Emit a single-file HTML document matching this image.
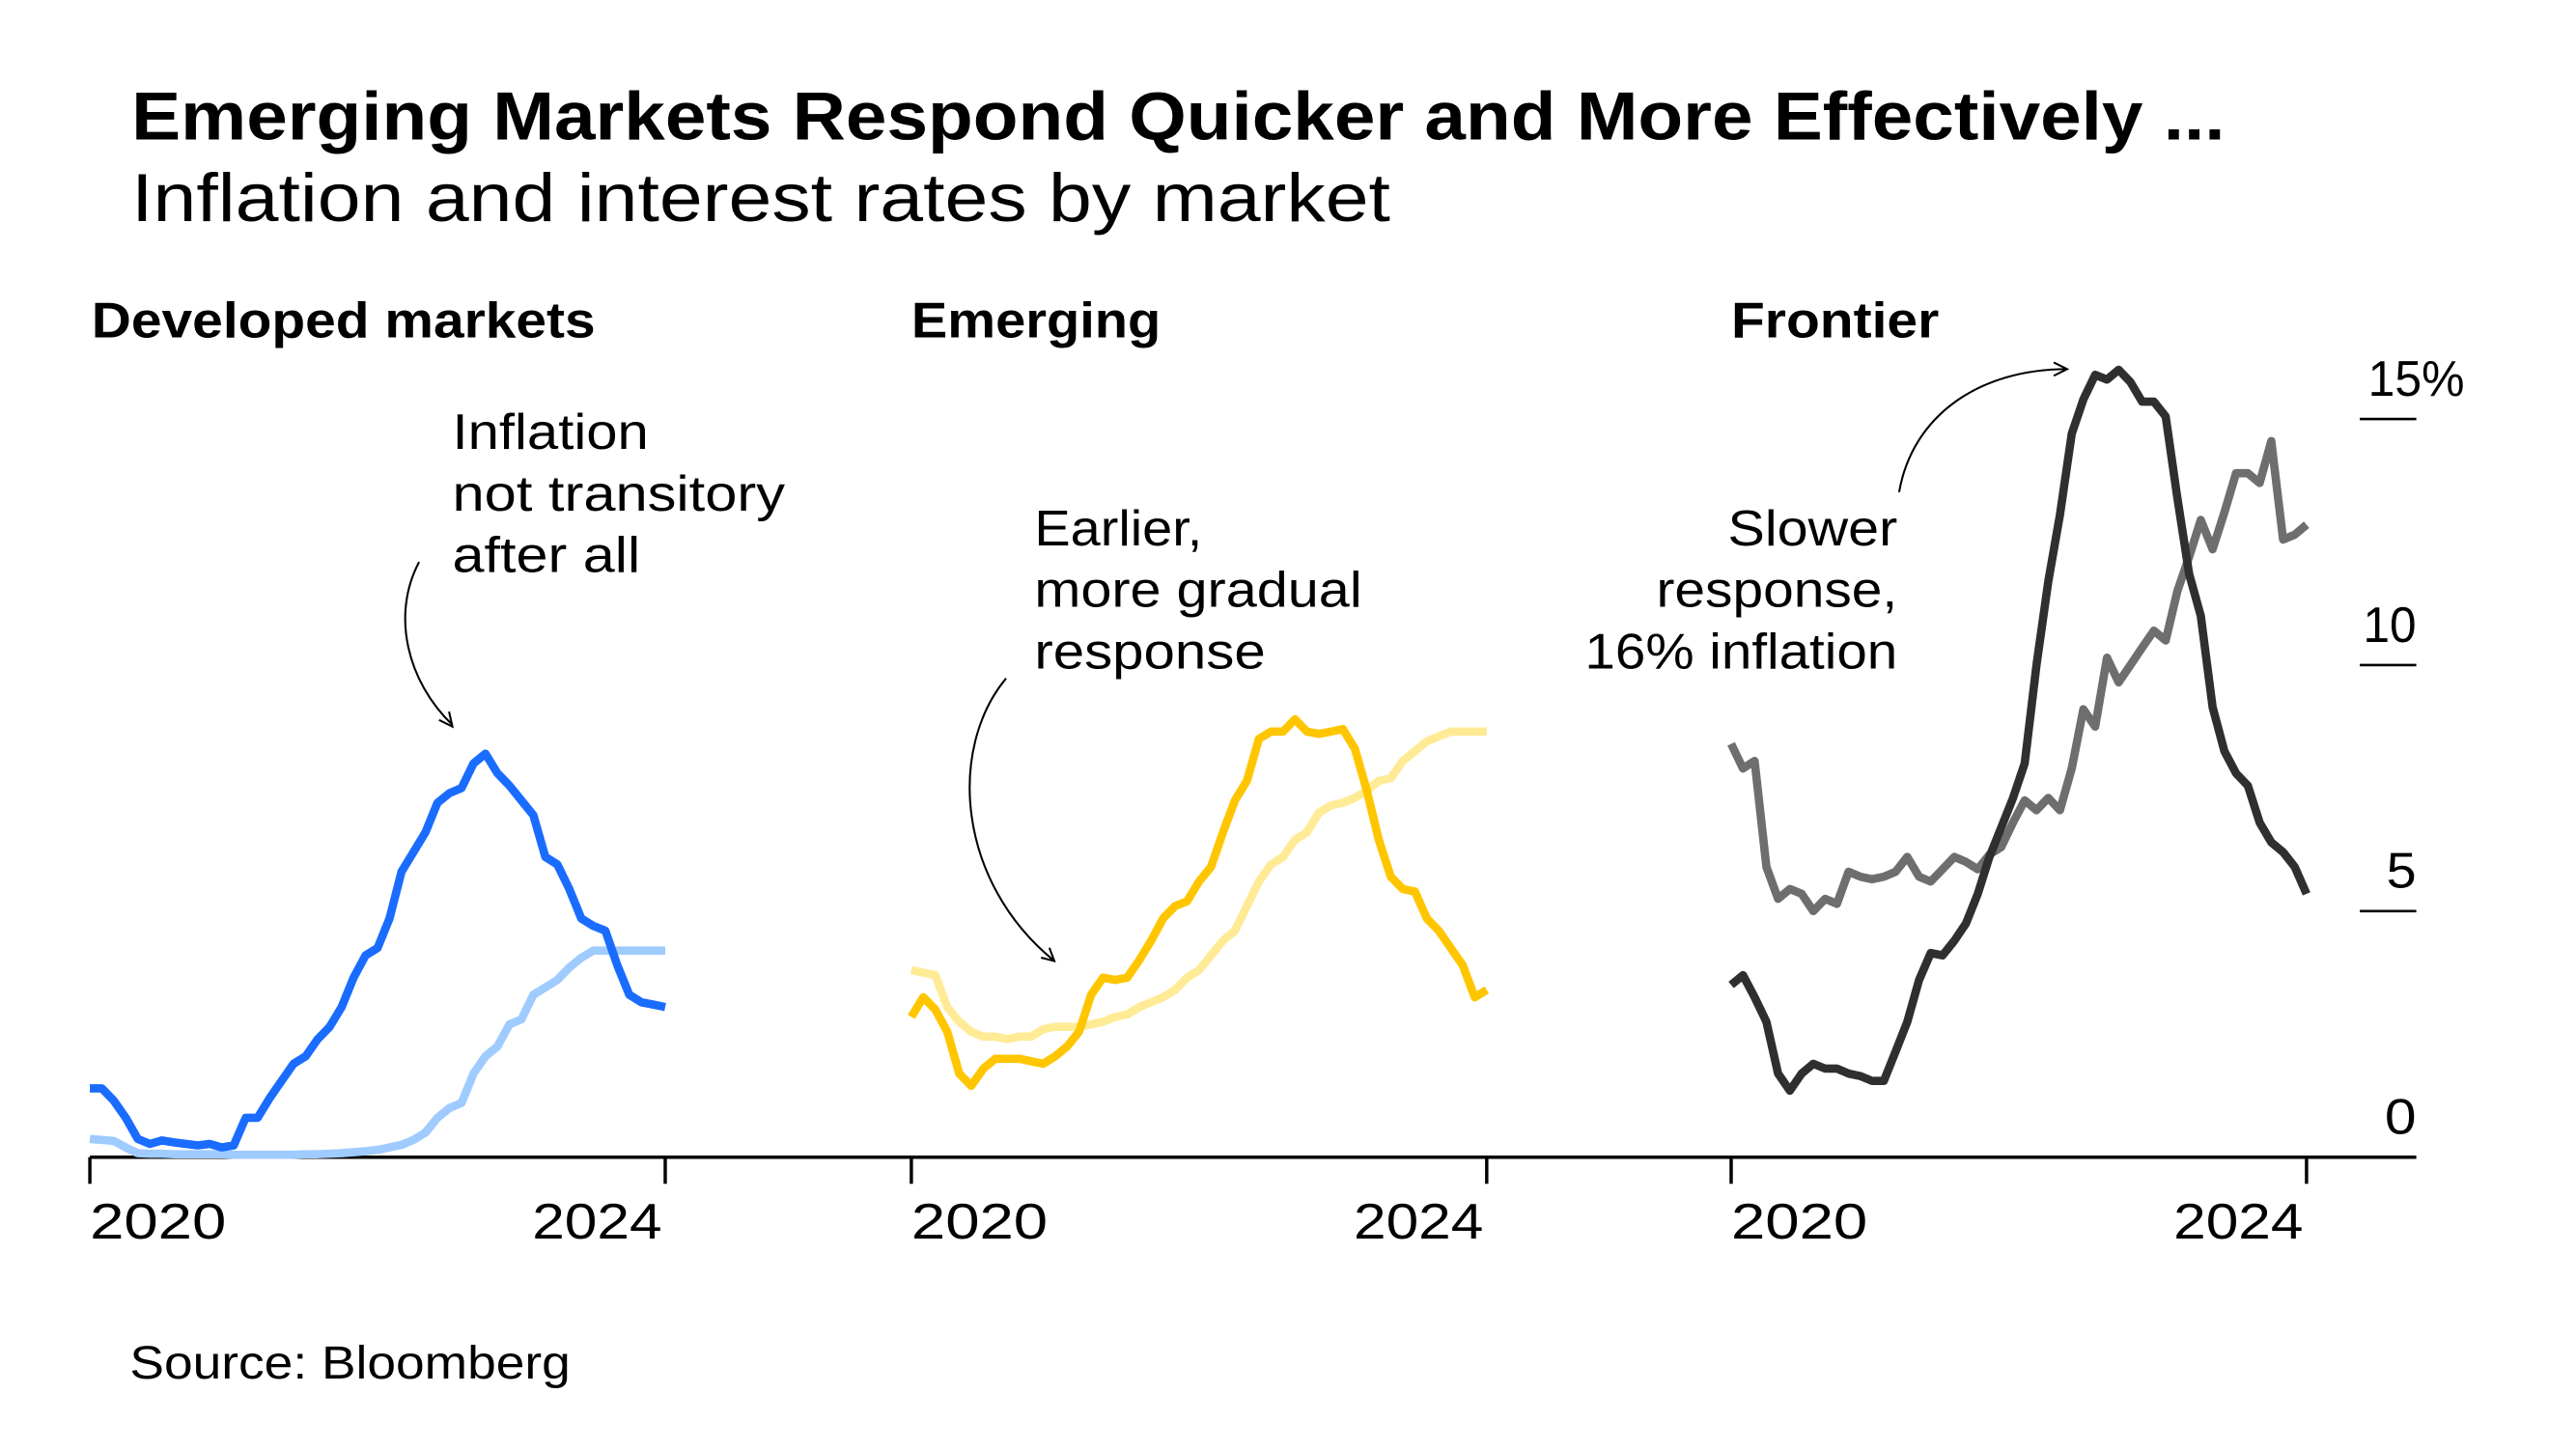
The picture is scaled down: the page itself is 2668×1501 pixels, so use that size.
<!DOCTYPE html>
<html><head><meta charset="utf-8"><style>
html,body{margin:0;padding:0;background:#fff;}
svg{display:block;font-family:"Liberation Sans",Arial,sans-serif;}
</style></head><body>
<svg id="chart" width="2668" height="1501" viewBox="0 0 1549 871.5" xmlns="http://www.w3.org/2000/svg">
<text x="79" y="84" font-size="41" font-weight="bold" fill="#000" textLength="1259" lengthAdjust="spacingAndGlyphs">Emerging Markets Respond Quicker and More Effectively ...</text>
<text x="79" y="133" font-size="41" fill="#000" textLength="757" lengthAdjust="spacingAndGlyphs">Inflation and interest rates by market</text>
<text x="55" y="203" font-size="30" font-weight="bold" textLength="303" lengthAdjust="spacingAndGlyphs">Developed markets</text>
<text x="548" y="203" font-size="30" font-weight="bold" textLength="150" lengthAdjust="spacingAndGlyphs">Emerging</text>
<text x="1041" y="203" font-size="30" font-weight="bold" textLength="125" lengthAdjust="spacingAndGlyphs">Frontier</text>
<g id="axes"></g>
<g id="series"></g>
<g font-size="30">
<text x="272" y="270" textLength="118" lengthAdjust="spacingAndGlyphs">Inflation</text><text x="272" y="307" textLength="200" lengthAdjust="spacingAndGlyphs">not transitory</text><text x="272" y="344" textLength="113" lengthAdjust="spacingAndGlyphs">after all</text>
<path d="M252,338 C235,370 245,410 272,436" fill="none" stroke="#000" stroke-width="1.2"/>
<path d="M264,433 L272,437 L270,428" fill="none" stroke="#000" stroke-width="1.2"/>
</g>
<g font-size="30">
<text x="622" y="328" textLength="101" lengthAdjust="spacingAndGlyphs">Earlier,</text><text x="622" y="365" textLength="197" lengthAdjust="spacingAndGlyphs">more gradual</text><text x="622" y="402" textLength="139" lengthAdjust="spacingAndGlyphs">response</text>
<path d="M605,408 C570,450 575,530 634,578" fill="none" stroke="#000" stroke-width="1.2"/>
<path d="M626,576 L634,578 L631,570" fill="none" stroke="#000" stroke-width="1.2"/>
</g>
<g font-size="30" text-anchor="end">
<text x="1141" y="328" textLength="102" lengthAdjust="spacingAndGlyphs">Slower</text><text x="1141" y="365" textLength="145" lengthAdjust="spacingAndGlyphs">response,</text><text x="1141" y="402" textLength="188" lengthAdjust="spacingAndGlyphs">16% inflation</text>
<path d="M1142,296 C1150,250 1190,222 1243,222" fill="none" stroke="#000" stroke-width="1.2"/>
<path d="M1235,218 L1243,222 L1235,226" fill="none" stroke="#000" stroke-width="1.2"/>
</g>
<text x="78" y="829" font-size="28" textLength="265" lengthAdjust="spacingAndGlyphs">Source: Bloomberg</text>
</svg>
<script>
const yTicks=[0,5,10,15];
const yTickLabels=["0","5","10","15%"];
const xTickLabels=["2020","2024"];
const devInflation=[1.4,1.4,1.15,0.8,0.37,0.27,0.34,0.3,0.27,0.24,0.27,0.2,0.24,0.8,0.8,1.2,1.55,1.9,2.05,2.4,2.65,3.05,3.65,4.1,4.25,4.85,5.8,6.2,6.6,7.2,7.4,7.5,8.0,8.2,7.8,7.55,7.25,6.95,6.1,5.95,5.45,4.85,4.7,4.6,3.9,3.3,3.15,3.1,3.05];
const devRates=[0.37,0.35,0.33,0.2,0.08,0.07,0.07,0.06,0.06,0.06,0.06,0.06,0.05,0.05,0.05,0.05,0.05,0.05,0.06,0.06,0.07,0.08,0.1,0.12,0.15,0.2,0.25,0.35,0.5,0.8,1.0,1.1,1.7,2.05,2.25,2.7,2.8,3.3,3.45,3.6,3.85,4.05,4.2,4.2,4.2,4.2,4.2,4.2,4.2];
const emInflation=[2.85,3.25,3.0,2.55,1.7,1.45,1.8,2.0,2.0,2.0,1.95,1.9,2.05,2.25,2.55,3.3,3.65,3.6,3.65,4.0,4.4,4.85,5.1,5.2,5.6,5.9,6.6,7.25,7.65,8.5,8.65,8.65,8.9,8.65,8.6,8.65,8.7,8.3,7.45,6.45,5.7,5.45,5.4,4.85,4.6,4.25,3.9,3.25,3.4];
const emRates=[3.8,3.75,3.7,3.05,2.75,2.55,2.45,2.45,2.4,2.45,2.45,2.6,2.65,2.65,2.65,2.7,2.75,2.85,2.9,3.05,3.15,3.25,3.4,3.65,3.8,4.1,4.4,4.6,5.1,5.6,5.95,6.1,6.45,6.6,7.0,7.15,7.2,7.3,7.45,7.65,7.7,8.05,8.25,8.45,8.55,8.65,8.65,8.65,8.65];
const frInflation=[3.5,3.7,3.25,2.75,1.7,1.35,1.7,1.9,1.8,1.8,1.7,1.65,1.55,1.55,2.15,2.75,3.6,4.15,4.1,4.4,4.75,5.35,6.1,6.7,7.3,8.0,10.0,11.7,13.05,14.7,15.4,15.9,15.8,16.0,15.75,15.35,15.35,15.05,13.4,11.85,11.0,9.15,8.25,7.8,7.55,6.8,6.4,6.2,5.9,5.35];
const frRates=[8.4,7.9,8.05,5.9,5.25,5.45,5.35,5.0,5.25,5.15,5.8,5.7,5.65,5.7,5.8,6.1,5.7,5.6,5.85,6.1,6.0,5.85,6.15,6.3,6.8,7.25,7.05,7.3,7.05,7.9,9.1,8.75,10.15,9.65,10.0,10.35,10.7,10.5,11.5,12.2,12.95,12.35,13.1,13.9,13.9,13.7,14.55,12.55,12.65,12.85];
const panels=[
 {name:"developed",x0:54,series:[{d:devRates,c:"#9fcbff",n:"developed-rates-line"},{d:devInflation,c:"#1a6cff",n:"developed-inflation-line"}]},
 {name:"emerging",x0:548,series:[{d:emRates,c:"#ffeb95",n:"emerging-rates-line"},{d:emInflation,c:"#ffc600",n:"emerging-inflation-line"}]},
 {name:"frontier",x0:1041,series:[{d:frRates,c:"#6e6e6e",n:"frontier-rates-line"},{d:frInflation,c:"#2f2f2f",n:"frontier-inflation-line"}]}
];
const NS="http://www.w3.org/2000/svg";
const yScale=v=>696-v*29.6;
const W=346;
function mk(t,a,p){const e=document.createElementNS(NS,t);for(const k in a)e.setAttribute(k,a[k]);p.appendChild(e);return e;}
const axes=document.getElementById('axes'),ser=document.getElementById('series');
const base=mk('line',{x1:54,x2:1453,y1:696,y2:696,stroke:'#000','stroke-width':2},axes);


const yLabW={"0":19,"5":18,"10":32,"15%":58};
yTicks.forEach((v,i)=>{
 if(v>0){const l=mk('line',{x1:1419,x2:1453,y1:yScale(v),y2:yScale(v),stroke:'#000','stroke-width':1.5},axes);
 
 }
 const t=mk('text',{x:i==3?1482:1453,y:yScale(v)-14,'font-size':30,'text-anchor':'end',textLength:yLabW[yTickLabels[i]],lengthAdjust:'spacingAndGlyphs'},axes);
 t.textContent=yTickLabels[i];
 
 
});
panels.forEach(p=>{
 xTickLabels.forEach((lab,j)=>{
  const x=p.x0+j*W;
  const l=mk('line',{x1:x,x2:x,y1:696,y2:712,stroke:'#000','stroke-width':2},axes);
  
  
  const t=mk('text',{x:j==0?p.x0:x-2,y:745,'font-size':30,'text-anchor':j==0?'start':'end',textLength:j==0?82:78,lengthAdjust:'spacingAndGlyphs'},axes);
  t.textContent=lab;
  
  
 });
 p.series.forEach(s=>{
  const n=s.d.length-1;
  const pts=s.d.map((v,i)=>(p.x0+i*W/n).toFixed(1)+','+yScale(v).toFixed(1)).join(' ');
  const pl=mk('polyline',{points:pts,fill:'none',stroke:s.c,'stroke-width':5,'stroke-linejoin':'round'},ser);
  
  
 });
});
</script>
</body></html>
